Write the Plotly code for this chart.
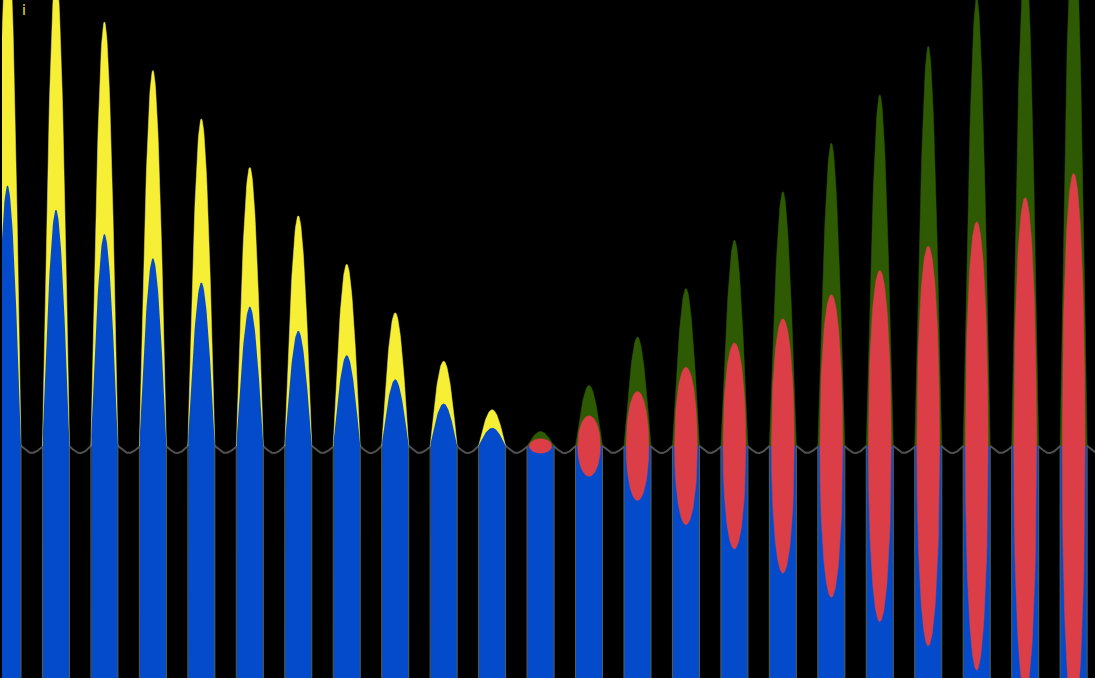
import numpy as np
import plotly.graph_objects as go

# ---- data ----
columns = list(range(23))                      # column index (x position)
amplitude = [10.75, 9.75, 8.75, 7.75, 6.75, 5.75, 4.75, 3.75, 2.75, 1.75,
             0.75, -0.30, -1.25, -2.25, -3.25, -4.25, -5.25, -6.25, -7.25,
             -8.25, -9.25, -10.25, -11.25]     # signed peak of each column
label_text = "i"

# ---- styling / geometry ----
HALF = 0.279        # half width of a column (x units)
RED_HALF = 0.235    # half width of the red ellipses
DIP = 0.144         # depth of the grey wave between columns
YBOT = -10.0        # below the visible range
C_YEL, C_BLUE, C_GRN, C_RED = "#F7EE36", "#034BCB", "#2D5A02", "#DC3E47"
C_GREY = "#505050"
C_EDGE = "#56614f"

t = np.linspace(0, 1, 61)
hump = np.sin(np.pi * t)
ell = np.sqrt(np.clip(1 - (2 * t - 1) ** 2, 0, None))

def add(xl, yl, xs, ys):
    xl.extend(list(xs) + [None]); yl.extend(list(ys) + [None])

yx, yy, gx, gy, bx, by, rx, ry, ex, ey = ([] for _ in range(10))
wx, wy = [], []
for c, a in zip(columns, amplitude):
    left, right = c - HALF, c + HALF
    xs = left + t * (right - left)
    pos, neg = max(a, 0.0), max(-a, 0.0)
    if pos > 0:
        add(yx, yy, xs, pos * hump)
    if neg > 0:
        add(gx, gy, xs, neg * hump)
        rxs = c - RED_HALF + t * 2 * RED_HALF
        add(rx, ry, np.concatenate([rxs, rxs[::-1]]),
            np.concatenate([neg / 2 * ell, -neg / 2 * ell[::-1]]))
    add(bx, by, np.concatenate([[left], xs, [right]]),
        np.concatenate([[YBOT], pos / 2 * hump, [YBOT]]))
    add(ex, ey, [left, left], [YBOT, 0]); add(ex, ey, [right, right], [YBOT, 0])
    # grey wave: small hump inside the column, dip in the following gap
    wx.extend(list(xs)); wy.extend(list(DIP * hump))
    gxs = right + t * (1 - 2 * HALF)
    wx.extend(list(gxs)); wy.extend(list(-DIP * hump))
# gap before first column
gxs0 = -1 + HALF + t * (1 - 2 * HALF)
wx = list(gxs0) + wx; wy = list(-DIP * hump) + wy

fig = go.Figure()
fig.add_trace(go.Scatter(x=wx, y=wy, mode="lines", line=dict(color=C_GREY, width=2),
                         hoverinfo="skip"))
fig.add_trace(go.Scatter(x=yx, y=yy, mode="lines", fill="toself", fillcolor=C_YEL,
                         line=dict(width=0.5, color=C_YEL), hoverinfo="skip"))
fig.add_trace(go.Scatter(x=gx, y=gy, mode="lines", fill="toself", fillcolor=C_GRN,
                         line=dict(width=0.5, color=C_GRN), hoverinfo="skip"))
fig.add_trace(go.Scatter(x=bx, y=by, mode="lines", fill="toself", fillcolor=C_BLUE,
                         line=dict(width=0), hoverinfo="skip"))
fig.add_trace(go.Scatter(x=ex, y=ey, mode="lines", line=dict(color=C_EDGE, width=1),
                         hoverinfo="skip"))
fig.add_trace(go.Scatter(x=rx, y=ry, mode="lines", fill="toself", fillcolor=C_RED,
                         line=dict(width=0.5, color=C_RED), hoverinfo="skip"))

fig.add_annotation(text=label_text, xref="paper", yref="paper", x=0.02, y=1.0,
                   xanchor="center", yanchor="top", showarrow=False,
                   font=dict(color=C_YEL, size=14, family="DejaVu Sans"))

fig.update_layout(
    width=1095, height=678,
    margin=dict(l=2, r=0, t=0, b=0),
    paper_bgcolor="black", plot_bgcolor="black",
    showlegend=False,
    xaxis=dict(range=[-0.1135, 22.441], visible=False, fixedrange=True),
    yaxis=dict(range=[-4.787, 9.203], visible=False, fixedrange=True),
)
fig.write_html("out.html", config={"displayModeBar": False},
               post_script="document.body.style.margin='0px';"
                           "document.body.style.overflow='hidden';"
                           "document.body.style.background='black';")
